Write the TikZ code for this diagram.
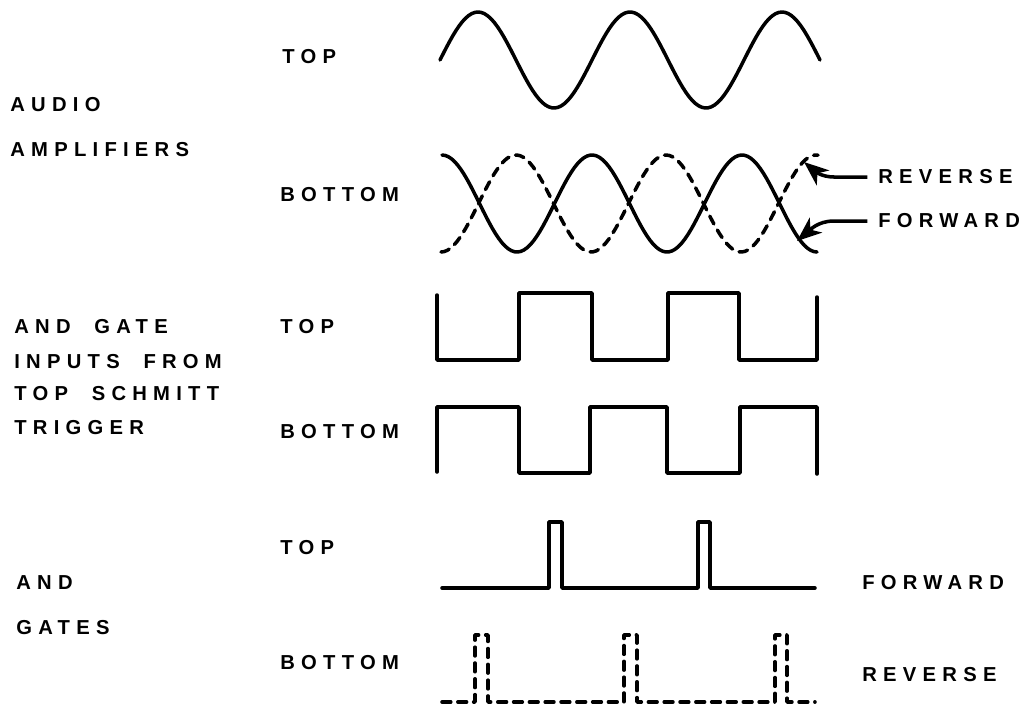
\documentclass[tikz,border=0pt]{standalone}
\usepackage{fontspec}
\newfontfamily\lblfont[LetterSpace=31,WordSpace=2,UprightFont={Liberation Sans Bold}]{Liberation Sans}
\usetikzlibrary{arrows.meta}

\begin{document}
\begin{tikzpicture}[
  x=0.02cm, y=-0.02cm,
  >=Stealth,
  lbl/.style={anchor=west,inner sep=0pt,font=\lblfont\fontsize{11.5}{13}\selectfont},
  wave/.style={line width=2pt,line join=round,line cap=round},
  dwave/.style={wave,dash pattern=on 5pt off 4pt},
  ptr/.style={-{Stealth[length=14pt,width=11pt,inset=4pt]},line width=2pt,shorten <=6pt}
]
\useasboundingbox (0,0) rectangle (1028,708);

\node[lbl] (audio) at (10,105) {AUDIO};
\node[lbl] (ampl) at (10,150) {AMPLIFIERS};
\node[lbl] (atop) at (282,57) {TOP};
\node[lbl] (abot) at (280,195) {BOTTOM};
\node[lbl] (revA) at (878,177) {REVERSE};
\node[lbl] (fwdA) at (878,221) {FORWARD};
\node[lbl] (gate1) at (14,327) {AND GATE};
\node[lbl] (gate2) at (14,362) {INPUTS FROM};
\node[lbl] (gate3) at (14,394) {TOP SCHMITT};
\node[lbl] (gate4) at (14,428) {TRIGGER};
\node[lbl] (stop) at (280,327) {TOP};
\node[lbl] (sbot) at (280,432) {BOTTOM};
\node[lbl] (ptop) at (280,548) {TOP};
\node[lbl] (and1) at (16,583) {AND};
\node[lbl] (and2) at (16,628) {GATES};
\node[lbl] (pbot) at (280,663) {BOTTOM};
\node[lbl] (fwdB) at (862,583) {FORWARD};
\node[lbl] (revB) at (862,675) {REVERSE};

\draw[wave] plot[domain=440:820,samples=120] (\x,{60-48*sin((\x-440)*2.3684)});
\draw[wave] plot[domain=442:817,samples=120] (\x,{203.5-48.5*cos((\x-442)*2.4)});
\draw[dwave] plot[domain=441:818,samples=120] (\x,{203.5+48.5*cos((\x-441)*2.4)});

\coordinate (revtip) at (804,162);
\coordinate (fwdtip) at (797,241);
\draw[ptr] (revA.west) -- (834,177) to[out=180,in=-40] (revtip);
\draw[ptr] (fwdA.west) -- (834,221) to[out=180,in=40] (fwdtip);

\draw[wave] (437,295) |- (519,360) |- (592,293) |- (668,360) |- (739,293) |- (817,360) -- (817,297);
\draw[wave] (437,472) |- (519,407) |- (590,473) |- (667,407) |- (740,473) |- (817,407) -- (817,474);

\draw[wave] (442,588) -| (549,522) -| (562,588) -| (698,522) -| (710,588) -- (815,588);
\draw[dwave] (442,702) -| (475,635) -| (488,702) -| (624,635) -| (637,702) -| (775,635) -| (787,702) -- (815,702);
\end{tikzpicture}
\end{document}
